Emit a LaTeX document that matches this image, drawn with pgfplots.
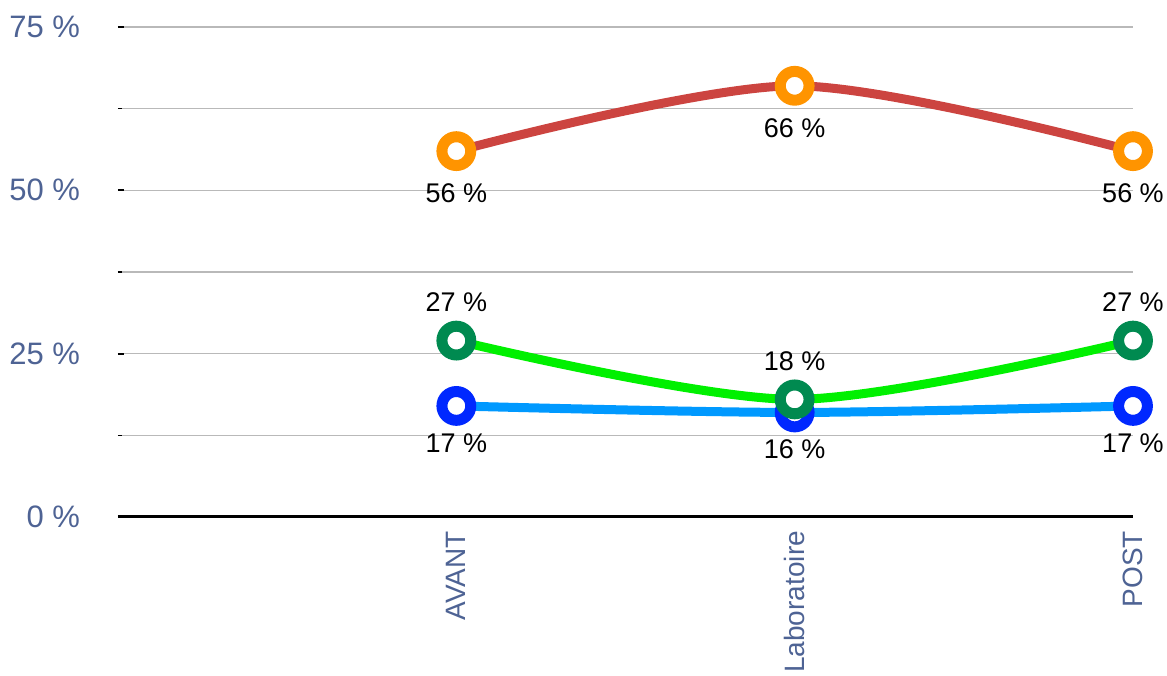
\documentclass[border=0pt]{standalone}
\usepackage{pgfplots}
\pgfplotsset{compat=1.18}
\usepackage{fontspec}
\setmainfont{Liberation Sans}
\definecolor{ticklab}{RGB}{78,99,148}
\definecolor{gridgray}{RGB}{185,185,185}
\definecolor{redline}{RGB}{204,68,64}
\definecolor{orangem}{RGB}{255,148,0}
\definecolor{greenline}{RGB}{0,240,0}
\definecolor{greenm}{RGB}{0,138,80}
\definecolor{blueline}{RGB}{0,153,255}
\definecolor{bluem}{RGB}{0,40,255}
\pgfplotsset{/pgf/number format/assume math mode=true}
\begin{document}
\begin{tikzpicture}
\begin{axis}[name=ax, scale only axis, width=507.5pt, height=245pt,
  xmin=-1, xmax=2, ymin=0, ymax=75, clip=false,
  axis line style={draw=none},
  xtick={0,1,2}, xticklabels={AVANT,Laboratoire,POST},
  xtick style={draw=none},
  xticklabel style={rotate=90, anchor=east, font=\fontsize{14}{17}\selectfont, text=ticklab, xshift=-3.5pt},
  ytick={0,25,50,75}, yticklabels={0 \%,25 \%,50 \%,75 \%},
  minor ytick={12.5,37.5,62.5},
  ymajorgrids, yminorgrids,
  major grid style={color=gridgray, line width=0.75pt},
  minor grid style={color=gridgray, line width=0.75pt},
  tick align=inside, ytick pos=left,
  major tick length=3pt, minor tick length=2pt,
  ytick style={black, line width=1pt},
  minor y tick style={black, line width=0.8pt},
  yticklabel style={font=\fontsize{15.5}{18}\selectfont, text=ticklab, xshift=-15.5pt},
  point meta=y,
  nodes near coords={\pgfmathprintnumber{\pgfplotspointmeta}~\%},
  every node near coord/.append style={font=\fontsize{13.5}{16}\selectfont, text=black},
]
\draw[black, line width=1.5pt] (axis cs:-1,0) -- (axis cs:2,0);
\addplot[smooth, color=redline, line width=4.5pt, mark=*, mark size=7.2pt,
  mark options={draw=orangem, fill=white, line width=5.5pt},
  every node near coord/.append style={anchor=center, yshift=-21pt}]
  coordinates {(0,56) (1,66) (2,56)};
\addplot[smooth, color=blueline, line width=4.5pt, mark=*, mark size=7.2pt,
  mark options={draw=bluem, fill=white, line width=5.5pt},
  every node near coord/.append style={anchor=center, yshift=-18.5pt}]
  coordinates {(0,17) (1,16) (2,17)};
\addplot[smooth, color=greenline, line width=4.5pt, mark=*, mark size=7.2pt,
  mark options={draw=greenm, fill=white, line width=5.5pt},
  every node near coord/.append style={anchor=center, yshift=19pt}]
  coordinates {(0,27) (1,18) (2,27)};
\end{axis}
\pgfresetboundingbox
\path[use as bounding box] ([shift={(-59pt,-79.5pt)}]ax.south west) rectangle ([shift={(17pt,13.5pt)}]ax.north east);
\end{tikzpicture}
\end{document}
